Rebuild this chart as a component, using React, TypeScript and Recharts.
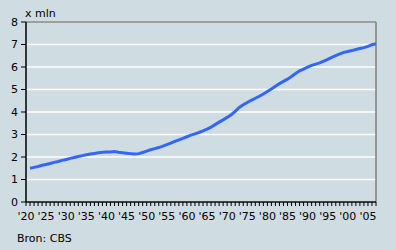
import React from "react";
import { LineChart, Line, XAxis, YAxis, CartesianGrid, ReferenceLine } from "recharts";

const years: number[] = [
  1921, 1922, 1923, 1924, 1925, 1926, 1927, 1928, 1929, 1930,
  1931, 1932, 1933, 1934, 1935, 1936, 1937, 1938, 1939, 1940,
  1941, 1942, 1943, 1944, 1945, 1946, 1947, 1948, 1949, 1950,
  1951, 1952, 1953, 1954, 1955, 1956, 1957, 1958, 1959, 1960,
  1961, 1962, 1963, 1964, 1965, 1966, 1967, 1968, 1969, 1970,
  1971, 1972, 1973, 1974, 1975, 1976, 1977, 1978, 1979, 1980,
  1981, 1982, 1983, 1984, 1985, 1986, 1987, 1988, 1989, 1990,
  1991, 1992, 1993, 1994, 1995, 1996, 1997, 1998, 1999, 2000,
  2001, 2002, 2003, 2004, 2005, 2006, 2007,
];

const values: number[] = [
  1.50, 1.54, 1.58, 1.63, 1.67, 1.71, 1.76, 1.80, 1.85, 1.89,
  1.94, 1.98, 2.02, 2.06, 2.10, 2.13, 2.16, 2.19, 2.21, 2.22,
  2.22, 2.24, 2.21, 2.19, 2.17, 2.15, 2.13, 2.15, 2.20, 2.26,
  2.32, 2.37, 2.42, 2.48, 2.55, 2.62, 2.69, 2.76, 2.83, 2.90,
  2.97, 3.03, 3.09, 3.16, 3.24, 3.33, 3.44, 3.55, 3.65, 3.76,
  3.88, 4.03, 4.20, 4.32, 4.42, 4.52, 4.61, 4.70, 4.80, 4.91,
  5.02, 5.14, 5.26, 5.36, 5.46, 5.58, 5.71, 5.83, 5.91, 5.99,
  6.07, 6.13, 6.18, 6.26, 6.34, 6.43, 6.51, 6.58, 6.65, 6.69,
  6.73, 6.78, 6.82, 6.86, 6.92, 6.99, 7.03,
];

const labelYears: number[] = [1920, 1925, 1930, 1935, 1940, 1945, 1950, 1955, 1960, 1965, 1970, 1975, 1980, 1985, 1990, 1995, 2000, 2005];
const yTicks: number[] = [0, 1, 2, 3, 4, 5, 6, 7, 8];
const xStart = 1920;
const xEnd = 2007;
const xTicks: number[] = [];
for (let y = xStart; y <= xEnd; y++) xTicks.push(y);

const data = years.map((year, i) => ({ year, value: values[i] }));

const FONT = "'DejaVu Sans', Verdana, sans-serif";

const XTick = (props: any) => {
  const { x, y, payload } = props;
  const v = payload.value as number;
  if (!labelYears.includes(v)) return null;
  return (
    <text x={x} y={y + 12} textAnchor="middle" fontSize={11} fontFamily={FONT} fill="#000">
      {"'" + String(v).slice(2)}
    </text>
  );
};

export default function App() {
  return (
    <div style={{ position: "absolute", left: 0, top: 0, width: 396, height: 250, background: "#cfdce1" }}>
      <LineChart width={396} height={250} data={data} margin={{ top: 22, right: 20, bottom: 0, left: 0 }}>
        <CartesianGrid horizontal={true} vertical={false} stroke="#ffffff" strokeWidth={1.5} />
        <XAxis
          dataKey="year"
          type="number"
          domain={[xStart, xEnd]}
          ticks={xTicks}
          interval={0}
          tick={<XTick />}
          tickLine={{ stroke: "#000" }}
          tickSize={4}
          axisLine={{ stroke: "#000", strokeWidth: 1.5 }}
          height={48}
        />
        <YAxis
          type="number"
          domain={[0, 8]}
          ticks={yTicks}
          interval={0}
          width={26}
          tickSize={5}
          tickMargin={3}
          tickLine={{ stroke: "#000" }}
          axisLine={{ stroke: "#000", strokeWidth: 1.5 }}
          tick={{ fontSize: 11, fontFamily: FONT, fill: "#000" }}
        />
        <ReferenceLine y={8} stroke="#808080" strokeWidth={1.5} />
        <ReferenceLine x={xEnd} stroke="#808080" strokeWidth={1.5} />
        <Line
          type="linear"
          dataKey="value"
          stroke="#3366ff"
          strokeWidth={3}
          dot={false}
          isAnimationActive={false}
        />
        <text x={25} y={17} fontSize={11} fontFamily={FONT} fill="#000">x mln</text>
        <text x={17} y={242} fontSize={11} fontFamily={FONT} fill="#000">Bron: CBS</text>
      </LineChart>
    </div>
  );
}
